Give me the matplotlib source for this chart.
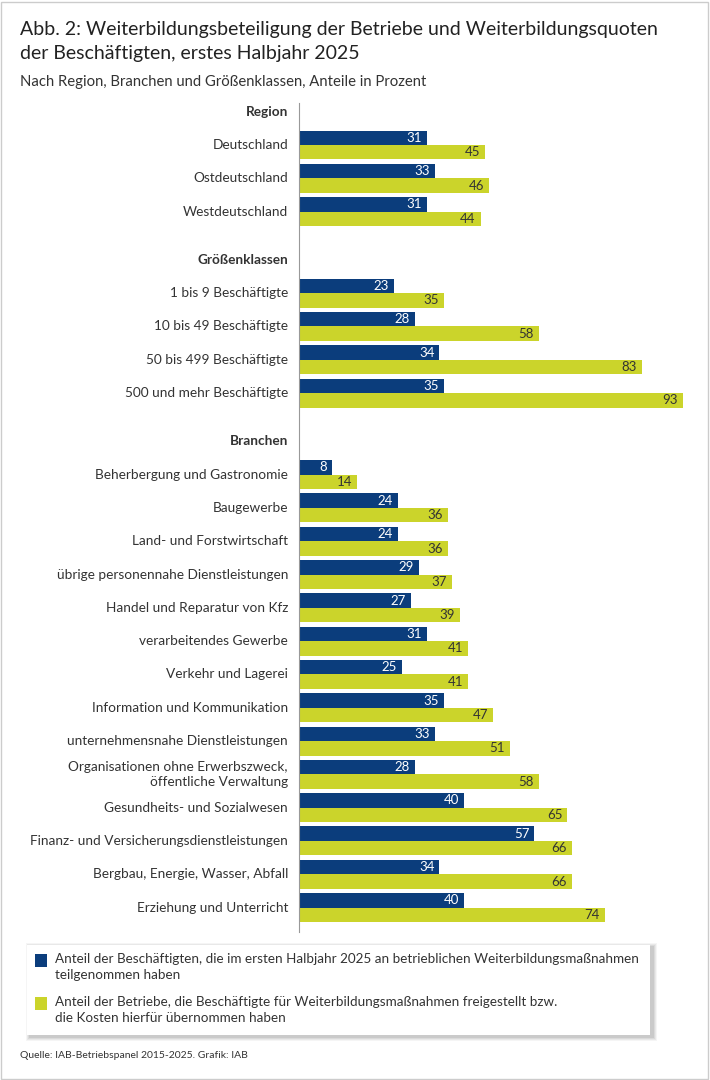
import numpy as np
import matplotlib
matplotlib.use("Agg")
import matplotlib.pyplot as plt
from matplotlib.patches import Rectangle

# data
region_labels = ["Deutschland", "Ostdeutschland", "Westdeutschland"]
region_besch = [31, 33, 31]
region_betr = [45, 46, 44]

groesse_labels = ["1 bis 9 Beschäftigte", "10 bis 49 Beschäftigte",
                  "50 bis 499 Beschäftigte", "500 und mehr Beschäftigte"]
groesse_besch = [23, 28, 34, 35]
groesse_betr = [35, 58, 83, 93]

branchen_labels = ["Beherbergung und Gastronomie", "Baugewerbe",
                   "Land- und Forstwirtschaft",
                   "übrige personennahe Dienstleistungen",
                   "Handel und Reparatur von Kfz", "verarbeitendes Gewerbe",
                   "Verkehr und Lagerei", "Information und Kommunikation",
                   "unternehmensnahe Dienstleistungen",
                   "Organisationen ohne Erwerbszweck,\nöffentliche Verwaltung",
                   "Gesundheits- und Sozialwesen",
                   "Finanz- und Versicherungsdienstleistungen",
                   "Bergbau, Energie, Wasser, Abfall",
                   "Erziehung und Unterricht"]
branchen_besch = [8, 24, 24, 29, 27, 31, 25, 35, 33, 28, 40, 57, 34, 40]
branchen_betr = [14, 36, 36, 37, 39, 41, 41, 47, 51, 58, 65, 66, 66, 74]

groups = [("Region", region_labels, region_besch, region_betr),
          ("Größenklassen", groesse_labels, groesse_besch, groesse_betr),
          ("Branchen", branchen_labels, branchen_besch, branchen_betr)]

legend_labels = ["Anteil der Beschäftigten, die im ersten Halbjahr 2025 an betrieblichen Weiterbildungsmaßnahmen\nteilgenommen haben",
                 "Anteil der Betriebe, die Beschäftigte für Weiterbildungsmaßnahmen freigestellt bzw.\ndie Kosten hierfür übernommen haben"]

BLUE = "#0b3d7c"
GREEN = "#cbd42b"
TXT = "#333333"
plt.rcParams["font.family"] = ["Lato", "DejaVu Sans"]

W, H = 710, 1080
fig = plt.figure(figsize=(W / 100, H / 100), dpi=100)

# frame around the graphic
fig.patches.append(Rectangle((1 / W, 1 / H), 1 - 3 / W, 1 - 3 / H, transform=fig.transFigure,
                             fill=False, edgecolor="#cccccc", lw=1))

fig.text(20 / W, 1 - 29 / H, "Abb. 2: Weiterbildungsbeteiligung der Betriebe und Weiterbildungsquoten",
         fontsize=14, color="#222222", va="center")
fig.text(20 / W, 1 - 53 / H, "der Beschäftigten, erstes Halbjahr 2025",
         fontsize=14, color="#222222", va="center")
fig.text(20 / W, 1 - 82 / H, "Nach Region, Branchen und Größenklassen, Anteile in Prozent",
         fontsize=10.7, color=TXT, va="center")

# axes: left edge at x=299px, 4.13 px per percent point
ax_l, ax_r = 299, 709
ax_t, ax_b = 103, 932
ax = fig.add_axes([ax_l / W, 1 - ax_b / H, (ax_r - ax_l) / W, (ax_b - ax_t) / H])
ax.set_xlim(0, (ax_r - ax_l) / 4.13)
row_px = 33.3
ax.set_ylim(1 + (ax_b - 143) / row_px, 1 + (ax_t - 143) / row_px)

bh = 0.435
off = 0.06
pos = 0.0
lab_dy = 0.06
for gi, (head, labels, besch, betr) in enumerate(groups):
    if gi > 0:
        pos += 1.45
    ax.text(-11 / 4.13, pos + lab_dy, head, ha="right", va="center", fontsize=9.8,
            fontweight="bold", color=TXT)
    for lab, b1, b2 in zip(labels, besch, betr):
        pos += 1
        ax.barh(pos + off - bh / 2, b1, height=bh, color=BLUE)
        ax.barh(pos + off + bh / 2, b2, height=bh, color=GREEN)
        ax.text(b1 - 1.2, pos + off - bh / 2, str(b1), ha="right", va="center",
                fontsize=9.5, color="white")
        ax.text(b2 - 1.2, pos + off + bh / 2, str(b2), ha="right", va="center",
                fontsize=9.5, color=TXT)
        ax.text(-11 / 4.13, pos + lab_dy, lab, ha="right", va="center", fontsize=9.8,
                color=TXT, linespacing=1.25)

for s in ["top", "right", "bottom"]:
    ax.spines[s].set_visible(False)
ax.spines["left"].set_color("#999999")
ax.spines["left"].set_linewidth(0.8)
ax.set_xticks([])
ax.set_yticks([])
ax.patch.set_visible(False)

# legend box with soft shadow
lx0, lx1, ly0, ly1 = 27, 650, 945, 1035
for i, a in enumerate([0.04, 0.05, 0.06, 0.07]):
    d = 4 - i
    fig.patches.append(Rectangle(((lx0 - d + 3) / W, 1 - (ly1 + d + 2) / H),
                                 (lx1 - lx0 + 2 * d) / W, (ly1 - ly0 + 2 * d) / H,
                                 transform=fig.transFigure, facecolor="black",
                                 edgecolor="none", alpha=a))
fig.patches.append(Rectangle((lx0 / W, 1 - ly1 / H), (lx1 - lx0) / W, (ly1 - ly0) / H,
                             transform=fig.transFigure, facecolor="white", edgecolor="none"))
for col, lab, ytop in [(BLUE, legend_labels[0], 954), (GREEN, legend_labels[1], 997)]:
    fig.patches.append(Rectangle((35 / W, 1 - (ytop + 13) / H), 12 / W, 13 / H,
                                 transform=fig.transFigure, facecolor=col, edgecolor="none"))
    fig.text(55 / W, 1 - (ytop - 1) / H, lab, fontsize=9.75, color=TXT, va="top",
             linespacing=1.4)

fig.text(20 / W, 1 - 1055 / H, "Quelle: IAB-Betriebspanel 2015-2025. Grafik: IAB",
         fontsize=7.5, color=TXT, va="center")

fig.savefig("out.png", dpi=100, facecolor="white")
